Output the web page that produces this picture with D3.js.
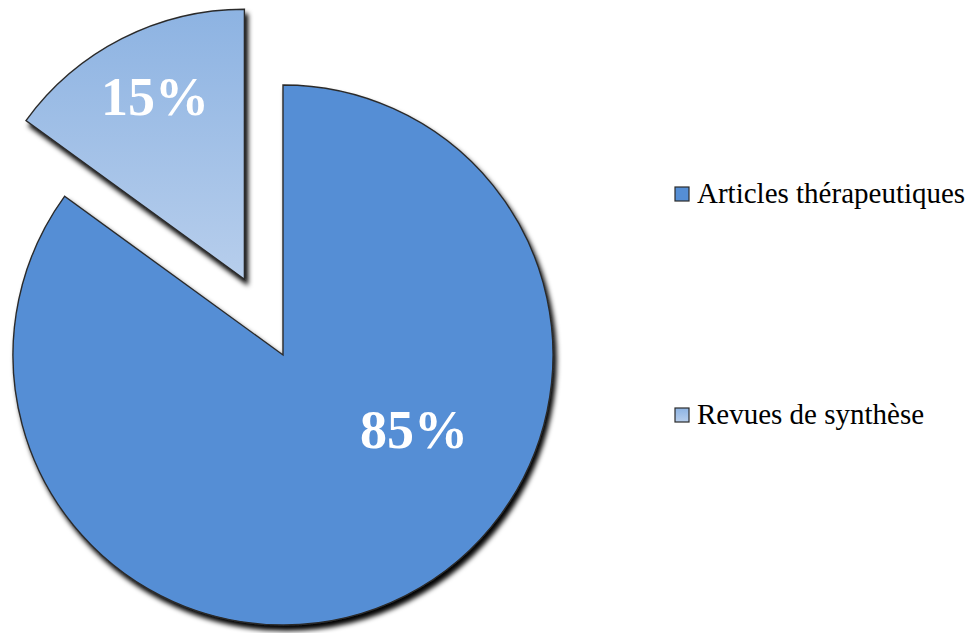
<!DOCTYPE html>
<html>
<head>
<meta charset="utf-8">
<script src="https://cdn.jsdelivr.net/npm/d3@7"></script>
<style>
  html, body { margin: 0; padding: 0; background: #ffffff; }
  svg { display: block; }
  .serif { font-family: "Liberation Serif", Tinos, "Times New Roman", Times, serif; }
</style>
</head>
<body>
<svg id="chart" width="974" height="633"></svg>
<script>
// Répartition des articles
const categories = ["Articles thérapeutiques", "Revues de synthèse"];
const values = [85, 15];
const valueLabels = ["85%", "15%"];

const cx = 283, cy = 355, radius = 270;
const explode = 85;            // décalage de la part détachée

const svg = d3.select("#chart");
const defs = svg.append("defs");

// ombre portée des parts
const shadow = defs.append("filter")
  .attr("id", "shadow")
  .attr("x", "-10%").attr("y", "-10%")
  .attr("width", "130%").attr("height", "130%");
shadow.append("feDropShadow")
  .attr("dx", 3).attr("dy", 5)
  .attr("stdDeviation", 2.6)
  .attr("flood-color", "#000")
  .attr("flood-opacity", 1);

// dégradé de la part claire
const grad = defs.append("linearGradient")
  .attr("id", "lightGrad")
  .attr("x1", 0).attr("y1", 0).attr("x2", 0).attr("y2", 1);
grad.append("stop").attr("offset", "0%").attr("stop-color", "#8DB3E2");
grad.append("stop").attr("offset", "100%").attr("stop-color", "#B7CEEC");

const fills = ["#558ED5", "url(#lightGrad)"];
const color = d3.scaleOrdinal().domain(categories).range(fills);

const pie = d3.pie().sort(null).value(d => d)(values);
const arc = d3.arc().innerRadius(0).outerRadius(radius);

const g = svg.append("g").attr("transform", `translate(${cx},${cy})`);

const offsetOf = (d, i) => {
  if (i !== 1) return [0, 0];
  const a = (d.startAngle + d.endAngle) / 2;
  return [explode * Math.sin(a), -explode * Math.cos(a)];
};

const slices = g.selectAll("g.slice")
  .data(pie)
  .join("g")
  .attr("class", "slice")
  .attr("transform", (d, i) => `translate(${offsetOf(d, i)})`);

slices.append("path")
  .attr("d", arc)
  .attr("fill", (d, i) => color(categories[i]))
  .attr("stroke", "#2b2b2b")
  .attr("stroke-width", 1.4)
  .attr("filter", "url(#shadow)");

// étiquettes de pourcentage, placées par rapport au centre du camembert
const labelAt = [[131, 75], [-128, -258]];
slices.append("text")
  .attr("class", "serif")
  .attr("x", (d, i) => labelAt[i][0] - offsetOf(d, i)[0])
  .attr("y", (d, i) => labelAt[i][1] - offsetOf(d, i)[1])
  .attr("text-anchor", "middle")
  .attr("dominant-baseline", "central")
  .style("font-weight", "bold")
  .style("font-size", "54px")
  .attr("fill", "#ffffff")
  .text((d, i) => valueLabels[i]);

// légende
const legend = svg.append("g").attr("transform", "translate(675,187)");
const rows = legend.selectAll("g")
  .data(categories)
  .join("g")
  .attr("transform", (d, i) => `translate(0,${i * 221})`);

rows.append("rect")
  .attr("width", 14).attr("height", 14)
  .attr("fill", d => color(d))
  .attr("stroke", "#2b2b2b")
  .attr("stroke-width", 1.2);

rows.append("text")
  .attr("class", "serif")
  .attr("x", 22).attr("y", 16)
  .style("font-size", "29px")
  .attr("fill", "#000000")
  .text(d => d);
</script>
</body>
</html>
